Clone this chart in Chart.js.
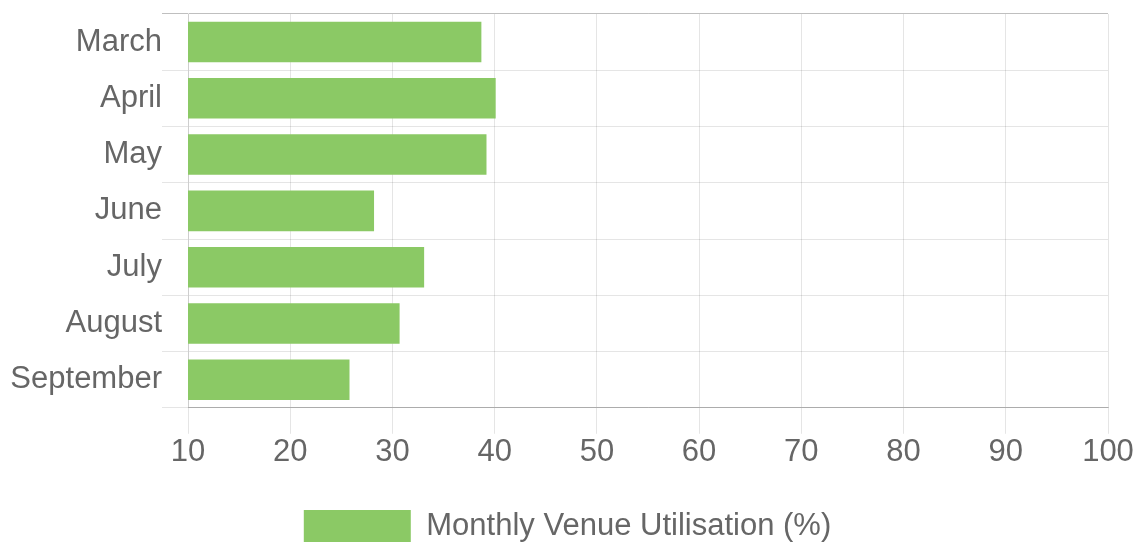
<!DOCTYPE html>
<html>
<head>
<meta charset="utf-8">
<script src="https://cdn.jsdelivr.net/npm/chart.js@4/dist/chart.umd.min.js"></script>
<style>
  html, body { margin: 0; padding: 0; background: #fff; }
  #wrap { width: 1139px; height: 542px; }
</style>
</head>
<body>
<div id="wrap"><canvas id="venueChart" width="1139" height="542"></canvas></div>
<script>
var months = ['March', 'April', 'May', 'June', 'July', 'August', 'September'];
var utilisation = [38.7, 40.1, 39.2, 28.2, 33.1, 30.7, 25.8];
var seriesName = 'Monthly Venue Utilisation (%)';

var barColour = '#8bc965';
var fontStuff = { family: '"Liberation Sans", Arial, sans-serif', size: 31 };
var yFont = { family: '"Liberation Sans", Arial, sans-serif', size: 31, lineHeight: 0.9 };

var ctx = document.getElementById('venueChart').getContext('2d');
var venueChart = new Chart(ctx, {
    type: 'bar',
    data: {
        labels: months,
        datasets: [{
            label: seriesName,
            data: utilisation,
            backgroundColor: barColour,
            borderWidth: 0,
            categoryPercentage: 0.8,
            barPercentage: 0.9
        }]
    },
    options: {
        indexAxis: 'y',
        responsive: false,
        animation: false,
        layout: { padding: { top: 11, right: 4, left: 0, bottom: -10 } },
        scales: {
            x: {
                min: 10,
                max: 100,
                ticks: { stepSize: 10, color: '#666', font: fontStuff, padding: 0 },
                grid: { color: 'rgba(0,0,0,0.1)', tickLength: 26 },
                border: { color: 'rgba(0,0,0,0.25)' },
                afterFit: function (scale) {
                    scale.height = scale.height + 37;
                    scale.paddingRight = 31;
                }
            },
            y: {
                ticks: { color: '#666', font: yFont, padding: 0 },
                grid: {
                    // first and last lines are a bit darker, like the frame
                    color: function (c) {
                        if (c.index === 0 || c.index === months.length) return 'rgba(0,0,0,0.25)';
                        return 'rgba(0,0,0,0.1)';
                    },
                    tickLength: 26
                },
                border: { color: 'rgba(0,0,0,0.1)' },
                afterFit: function (scale) { scale.width = 188; }
            }
        },
        plugins: {
            legend: {
                position: 'bottom',
                labels: {
                    color: '#666',
                    font: fontStuff,
                    boxWidth: 107,
                    boxHeight: 32,
                    padding: 2
                }
            },
            tooltip: { enabled: false }
        }
    }
});
</script>
</body>
</html>
